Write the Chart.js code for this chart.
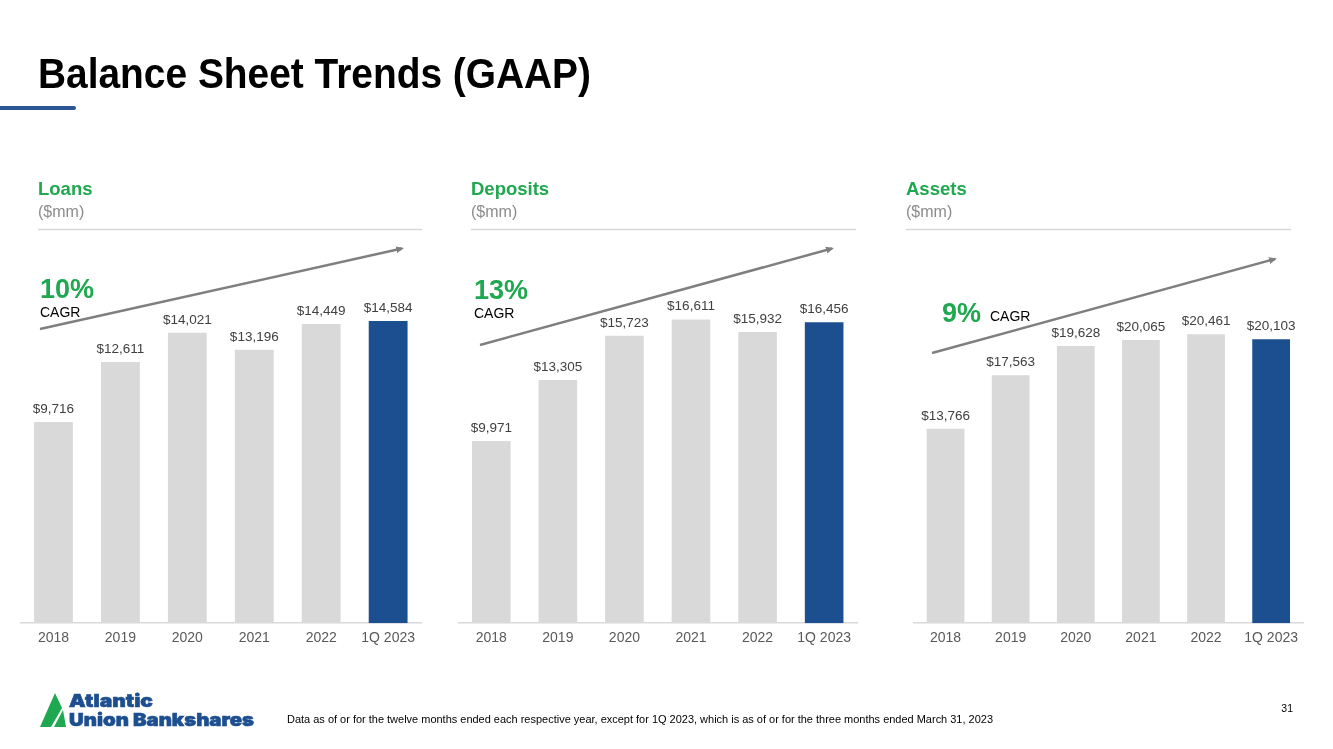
<!DOCTYPE html>
<html>
<head>
<meta charset="utf-8">
<script src="https://cdn.jsdelivr.net/npm/chart.js@4.4.0/dist/chart.umd.min.js"></script>
<style>
  html, body { margin: 0; padding: 0; background: #fff; }
  #page { position: relative; width: 1333px; height: 749px; overflow: hidden; font-family: 'Liberation Sans', Arial, sans-serif; }
  .chart-box { position: absolute; }
  #overlay { position: absolute; left: 0; top: 0; pointer-events: none; }
</style>
</head>
<body>
<div id="page">
  <div class="chart-box" id="boxLoans" style="left:20px; top:240px; width:402px; height:414px;"><canvas id="cLoans"></canvas></div>
  <div class="chart-box" id="boxDeposits" style="left:458px; top:240px; width:400px; height:414px;"><canvas id="cDeposits"></canvas></div>
  <div class="chart-box" id="boxAssets" style="left:913px; top:240px; width:392px; height:414px;"><canvas id="cAssets"></canvas></div>

  <svg id="overlay" width="1333" height="749" xmlns="http://www.w3.org/2000/svg">
    <defs>
      <marker id="arrowHead" markerWidth="8" markerHeight="8" refX="6" refY="4" orient="auto" markerUnits="userSpaceOnUse">
        <path d="M0,0.5 L8,4 L0,7.5 Z" fill="#7f7f7f"/>
      </marker>
    </defs>

    <!-- title -->
    <text x="38" y="88" font-family="'Liberation Sans', Arial, sans-serif" font-weight="bold" font-size="42" fill="#000"
          textLength="553" lengthAdjust="spacingAndGlyphs">Balance Sheet Trends (GAAP)</text>
    <line x1="-4" y1="108" x2="74" y2="108" stroke="#2b5696" stroke-width="4" stroke-linecap="round"/>

    <!-- panel headers -->
    <g font-family="'Liberation Sans', Arial, sans-serif">
      <text x="38" y="195" font-size="18.5" font-weight="bold" fill="#1fa84f">Loans</text>
      <text x="38" y="217" font-size="16" fill="#8c8c8c">($mm)</text>
      <line x1="38" y1="229.5" x2="422" y2="229.5" stroke="#d9d9d9" stroke-width="1.5"/>

      <text x="471" y="195" font-size="18.5" font-weight="bold" fill="#1fa84f">Deposits</text>
      <text x="471" y="217" font-size="16" fill="#8c8c8c">($mm)</text>
      <line x1="471" y1="229.5" x2="856" y2="229.5" stroke="#d9d9d9" stroke-width="1.5"/>

      <text x="906" y="195" font-size="18.5" font-weight="bold" fill="#1fa84f">Assets</text>
      <text x="906" y="217" font-size="16" fill="#8c8c8c">($mm)</text>
      <line x1="906" y1="229.5" x2="1291" y2="229.5" stroke="#d9d9d9" stroke-width="1.5"/>
    </g>

    <!-- trend arrows -->
    <line x1="40" y1="329" x2="402" y2="248.5" stroke="#7f7f7f" stroke-width="2.5" marker-end="url(#arrowHead)"/>
    <line x1="480" y1="345" x2="832" y2="248.5" stroke="#7f7f7f" stroke-width="2.5" marker-end="url(#arrowHead)"/>
    <line x1="932" y1="353" x2="1275" y2="259" stroke="#7f7f7f" stroke-width="2.5" marker-end="url(#arrowHead)"/>

    <!-- CAGR callouts -->
    <g font-family="'Liberation Sans', Arial, sans-serif">
      <text x="40" y="298" font-size="27" font-weight="bold" fill="#1fa84f">10%</text>
      <text x="40" y="317" font-size="14" fill="#000">CAGR</text>
      <text x="474" y="299" font-size="27" font-weight="bold" fill="#1fa84f">13%</text>
      <text x="474" y="318" font-size="14" fill="#000">CAGR</text>
      <text x="942" y="322" font-size="27" font-weight="bold" fill="#1fa84f">9%</text>
      <text x="990" y="321" font-size="14" fill="#000">CAGR</text>
    </g>

    <!-- logo -->
    <polygon points="40,727 55,693 62,708 51,727" fill="#1fa84f"/>
    <polygon points="54,727 63,710 66,727" fill="#1fa84f"/>
    <g font-family="Inter, 'Open Sans', sans-serif" font-weight="900" fill="#1d4e8f" stroke="#1d4e8f" stroke-width="0.6">
      <text x="69" y="707" font-size="18" textLength="84" lengthAdjust="spacingAndGlyphs">Atlantic</text>
      <text x="69" y="726" font-size="18" textLength="185" lengthAdjust="spacingAndGlyphs">Union Bankshares</text>
    </g>

    <!-- footnote and page number -->
    <text x="287" y="723" font-family="'Liberation Sans', Arial, sans-serif" font-size="10.5" fill="#000"
          textLength="706" lengthAdjust="spacingAndGlyphs">Data as of or for the twelve months ended each respective year, except for 1Q 2023, which is as of or for the three months ended March 31, 2023</text>
    <text x="1293" y="712" text-anchor="end" font-family="'Liberation Sans', Arial, sans-serif" font-size="10.5" fill="#000">31</text>
  </svg>
</div>

<script>
// categories shared by all three panels
const periods = ['2018', '2019', '2020', '2021', '2022', '1Q 2023'];

// $mm values
const loans = [9716, 12611, 14021, 13196, 14449, 14584];
const deposits = [9971, 13305, 15723, 16611, 15932, 16456];
const assets = [13766, 17563, 19628, 20065, 20461, 20103];

// value axis ceilings, so each panel keeps the slide's scale
const loansMax = 18500;
const depositsMax = 20960;
const assetsMax = 27140;

const GREY = '#d9d9d9';
const BLUE = '#1b4f8f';

const valueLabels = {
  id: 'valueLabels',
  afterDatasetsDraw(chart) {
    const ctx = chart.ctx;
    const meta = chart.getDatasetMeta(0);
    const data = chart.data.datasets[0].data;
    ctx.save();
    ctx.font = "13.5px 'Liberation Sans', Arial, sans-serif";
    ctx.fillStyle = '#404040';
    ctx.textAlign = 'center';
    ctx.textBaseline = 'bottom';
    meta.data.forEach((bar, i) => {
      ctx.fillText('$' + data[i].toLocaleString('en-US'), bar.x, bar.y - 6);
    });
    ctx.restore();
  }
};

function makePanel(canvasId, values, yMax) {
  return new Chart(document.getElementById(canvasId), {
    type: 'bar',
    data: {
      labels: periods,
      datasets: [{
        data: values,
        backgroundColor: values.map((_, i) => (i === values.length - 1 ? BLUE : GREY)),
        borderWidth: 0,
        categoryPercentage: 1,
        barPercentage: 0.58
      }]
    },
    options: {
      responsive: true,
      maintainAspectRatio: false,
      animation: false,
      layout: { padding: 0 },
      plugins: {
        legend: { display: false },
        tooltip: { enabled: false }
      },
      scales: {
        x: {
          grid: { display: false, drawTicks: false },
          border: { display: true, color: '#d9d9d9', width: 1.5 },
          ticks: {
            color: '#595959',
            font: { size: 14, family: "'Liberation Sans', Arial, sans-serif" },
            padding: 7,
            maxRotation: 0,
            autoSkip: false
          }
        },
        y: {
          display: false,
          min: 0,
          max: yMax
        }
      }
    },
    plugins: [valueLabels]
  });
}

makePanel('cLoans', loans, loansMax);
makePanel('cDeposits', deposits, depositsMax);
makePanel('cAssets', assets, assetsMax);
</script>
</body>
</html>
